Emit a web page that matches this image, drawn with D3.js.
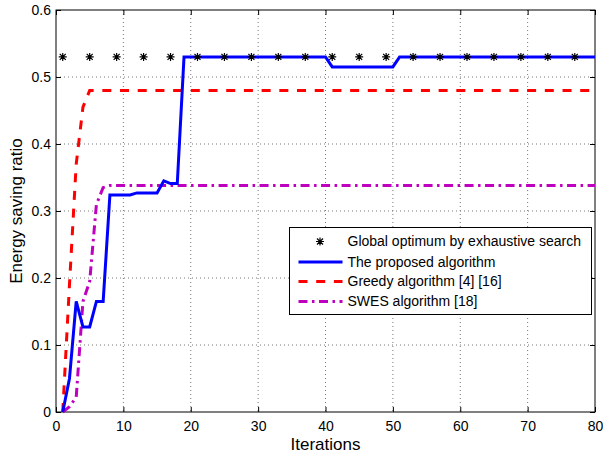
<!DOCTYPE html>
<html>
<head>
<meta charset="utf-8">
<script src="https://cdn.jsdelivr.net/npm/d3@7"></script>
<style>
  body { margin: 0; background: #fff; }
  svg { display: block; font-family: "Liberation Sans", Arial, sans-serif; }
</style>
</head>
<body>
<div class="chart"></div>
<script>
// iterations 1..80
var iterations = [1,2,3,4,5,6,7,8,9,10,11,12,13,14,15,16,17,18,19,20,
  21,22,23,24,25,26,27,28,29,30,31,32,33,34,35,36,37,38,39,40,
  41,42,43,44,45,46,47,48,49,50,51,52,53,54,55,56,57,58,59,60,
  61,62,63,64,65,66,67,68,69,70,71,72,73,74,75,76,77,78,79,80];

var proposed = [0,0.05,0.165,0.127,0.127,0.165,0.165,0.324,0.324,0.324,
  0.324,0.327,0.327,0.327,0.327,0.345,0.341,0.341,0.53,0.53,
  0.53,0.53,0.53,0.53,0.53,0.53,0.53,0.53,0.53,0.53,
  0.53,0.53,0.53,0.53,0.53,0.53,0.53,0.53,0.53,0.53,
  0.515,0.515,0.515,0.515,0.515,0.515,0.515,0.515,0.515,0.515,
  0.53,0.53,0.53,0.53,0.53,0.53,0.53,0.53,0.53,0.53,
  0.53,0.53,0.53,0.53,0.53,0.53,0.53,0.53,0.53,0.53,
  0.53,0.53,0.53,0.53,0.53,0.53,0.53,0.53,0.53,0.53];

var greedy = [0,0.19,0.37,0.455,0.48,0.48,0.48,0.48,0.48,0.48,
  0.48,0.48,0.48,0.48,0.48,0.48,0.48,0.48,0.48,0.48,
  0.48,0.48,0.48,0.48,0.48,0.48,0.48,0.48,0.48,0.48,
  0.48,0.48,0.48,0.48,0.48,0.48,0.48,0.48,0.48,0.48,
  0.48,0.48,0.48,0.48,0.48,0.48,0.48,0.48,0.48,0.48,
  0.48,0.48,0.48,0.48,0.48,0.48,0.48,0.48,0.48,0.48,
  0.48,0.48,0.48,0.48,0.48,0.48,0.48,0.48,0.48,0.48,
  0.48,0.48,0.48,0.48,0.48,0.48,0.48,0.48,0.48,0.48];

var swes = [0,0.008,0.022,0.165,0.195,0.31,0.335,0.338,0.338,0.338,
  0.338,0.338,0.338,0.338,0.338,0.338,0.338,0.338,0.338,0.338,
  0.338,0.338,0.338,0.338,0.338,0.338,0.338,0.338,0.338,0.338,
  0.338,0.338,0.338,0.338,0.338,0.338,0.338,0.338,0.338,0.338,
  0.338,0.338,0.338,0.338,0.338,0.338,0.338,0.338,0.338,0.338,
  0.338,0.338,0.338,0.338,0.338,0.338,0.338,0.338,0.338,0.338,
  0.338,0.338,0.338,0.338,0.338,0.338,0.338,0.338,0.338,0.338,
  0.338,0.338,0.338,0.338,0.338,0.338,0.338,0.338,0.338,0.338];

// global optimum markers
var optimumIter = [1,5,9,13,17,21,25,29,33,37,41,45,49,53,57,61,65,69,73,77];
var optimumVal = [0.53,0.53,0.53,0.53,0.53,0.53,0.53,0.53,0.53,0.53,
  0.53,0.53,0.53,0.53,0.53,0.53,0.53,0.53,0.53,0.53];

var xTicks = [0,10,20,30,40,50,60,70,80];
var yTicks = [0,0.1,0.2,0.3,0.4,0.5,0.6];

var legendLabels = [
  "Global optimum by exhaustive search",
  "The proposed algorithm",
  "Greedy algorithm [4] [16]",
  "SWES algorithm [18]"
];

var width = 603, height = 454;
var margin = { top: 10, right: 8, bottom: 42, left: 56 };
var w = width - margin.left - margin.right;
var h = height - margin.top - margin.bottom;

var svg = d3.select(".chart")
  .append("svg")
  .attr("width", width)
  .attr("height", height);

var g = svg.append("g")
  .attr("transform", "translate(" + margin.left + "," + margin.top + ")");

var x = d3.scaleLinear().domain([0, 80]).range([0, w]);
var y = d3.scaleLinear().domain([0, 0.6]).range([h, 0]);

// grid
g.append("g").selectAll("line")
  .data(xTicks.slice(1, -1))
  .enter().append("line")
  .attr("x1", d => x(d)).attr("x2", d => x(d))
  .attr("y1", 0).attr("y2", h)
  .style("stroke", "#777").style("stroke-dasharray", "1,3");

g.append("g").selectAll("line")
  .data(yTicks.slice(1, -1))
  .enter().append("line")
  .attr("x1", 0).attr("x2", w)
  .attr("y1", d => y(d)).attr("y2", d => y(d))
  .style("stroke", "#777").style("stroke-dasharray", "1,3");

// axes (ticks inward, all four sides)
g.append("g")
  .attr("transform", "translate(0," + h + ")")
  .call(d3.axisBottom(x).tickValues(xTicks).tickSizeInner(-5).tickSizeOuter(0).tickPadding(9));
g.append("g")
  .call(d3.axisLeft(y).tickValues(yTicks).tickFormat(d3.format("")).tickSizeInner(-5).tickSizeOuter(0).tickPadding(5));
g.append("g")
  .call(d3.axisTop(x).tickValues(xTicks).tickSizeInner(-5).tickSizeOuter(0).tickFormat(""));
g.append("g")
  .attr("transform", "translate(" + w + ",0)")
  .call(d3.axisRight(y).tickValues(yTicks).tickSizeInner(-5).tickSizeOuter(0).tickFormat(""));

g.selectAll(".domain").remove();
g.selectAll(".tick line").style("stroke", "#000");
g.selectAll(".tick text")
  .style("font-size", "14px")
  .style("font-family", "'Liberation Sans', Arial, sans-serif")
  .style("fill", "#000");

// plot box
g.append("rect")
  .attr("x", 0).attr("y", 0).attr("width", w).attr("height", h)
  .style("fill", "none").style("stroke", "#000").style("stroke-width", 1);

// series
var line = d3.line()
  .x(function (d, i) { return x(iterations[i]); })
  .y(function (d) { return y(d); });

g.append("path").datum(swes)
  .attr("d", line)
  .style("fill", "none").style("stroke", "#bf00bf").style("stroke-width", 3)
  .style("stroke-dasharray", "9,4.5,2.5,4.5");

g.append("path").datum(greedy)
  .attr("d", line)
  .style("fill", "none").style("stroke", "#ff0000").style("stroke-width", 3)
  .style("stroke-dasharray", "9,8.7");

g.append("path").datum(proposed)
  .attr("d", line)
  .style("fill", "none").style("stroke", "#0000ff").style("stroke-width", 3);

var starPath = "M-4,0H4M0,-4V4M-3,-3L3,3M-3,3L3,-3";
g.append("g").selectAll("path")
  .data(optimumIter)
  .enter().append("path")
  .attr("transform", function (d, i) { return "translate(" + x(d) + "," + y(optimumVal[i]) + ")"; })
  .attr("d", starPath)
  .style("stroke", "#000").style("stroke-width", 1.2).style("fill", "none");

// axis labels
svg.append("text")
  .attr("x", margin.left + w / 2)
  .attr("y", 450)
  .attr("text-anchor", "middle")
  .style("font-size", "17px")
  .text("Iterations");

svg.append("text")
  .attr("transform", "translate(22," + (margin.top + h / 2) + ") rotate(-90)")
  .attr("text-anchor", "middle")
  .style("font-size", "17px")
  .text("Energy saving ratio");

// legend
var legend = svg.append("g").attr("transform", "translate(289.5,227.5)");
legend.append("rect")
  .attr("width", 302).attr("height", 87)
  .style("fill", "#fff").style("stroke", "#000").style("stroke-width", 1);

var rowY = [14, 34.5, 54, 74];
var styles = [
  { stroke: "none", dash: null },
  { stroke: "#0000ff", dash: null },
  { stroke: "#ff0000", dash: "9,8.7" },
  { stroke: "#bf00bf", dash: "9,4.5,2.5,4.5" }
];

legendLabels.forEach(function (label, i) {
  var row = legend.append("g").attr("transform", "translate(0," + rowY[i] + ")");
  if (i === 0) {
    row.append("path")
      .attr("transform", "translate(30.5,0)")
      .attr("d", starPath)
      .style("stroke", "#000").style("stroke-width", 1.2);
  } else {
    row.append("line")
      .attr("x1", 9).attr("x2", 53).attr("y1", 0).attr("y2", 0)
      .style("stroke", styles[i].stroke).style("stroke-width", 3)
      .style("stroke-dasharray", styles[i].dash);
  }
  row.append("text")
    .attr("x", 58)
    .attr("dy", "0.35em")
    .style("font-size", "14px")
    .text(label);
});
</script>
</body>
</html>
